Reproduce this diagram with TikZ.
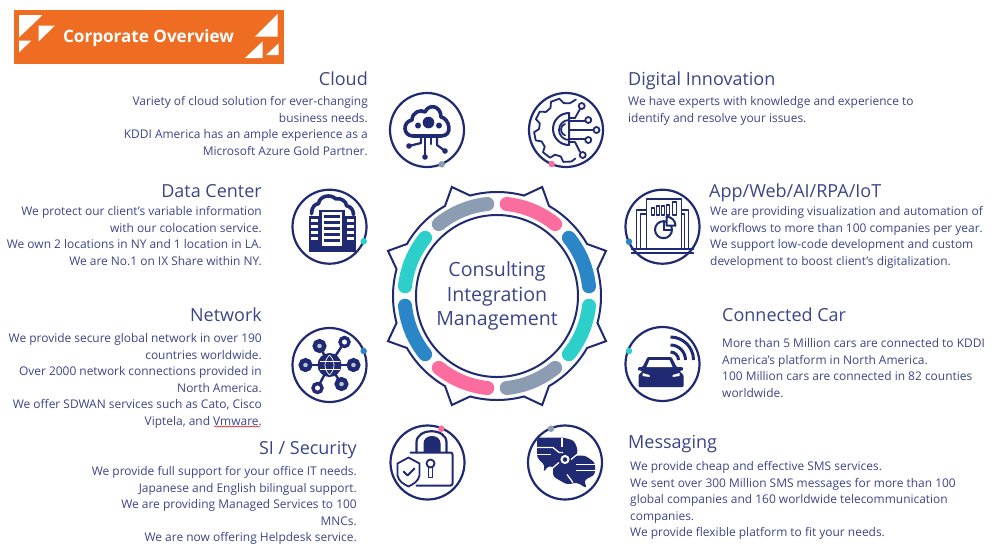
\documentclass[tikz,border=0pt]{standalone}
\usepackage{fontspec}
\setmainfont{Open Sans}
\usetikzlibrary{decorations.pathmorphing}
\definecolor{navy}{HTML}{1F2A72}
\definecolor{inktext}{HTML}{3B4488}
\definecolor{bannerorange}{HTML}{EE6D22}
\definecolor{pinkseg}{HTML}{FB6C9F}
\definecolor{blueseg}{HTML}{2A86C6}
\definecolor{tealseg}{HTML}{2CCFC9}
\definecolor{greyseg}{HTML}{8C9DB3}
\tikzset{
	titletext/.style={text=inktext,inner sep=0pt,font=\fontsize{18}{22}\selectfont},
	bodytext/.style={text=inktext,inner sep=0pt,font=\fontsize{11.95}{16.45}\selectfont},
	iconcirc/.style={circle,draw=navy,line width=2.2,fill=white,minimum size=74,inner sep=0pt},
	icondot/.style={circle,minimum size=6.5,inner sep=0pt},
	segment/.style={line width=14pt,line cap=round},
	iconline/.style={draw=navy,line width=1.8,line cap=round,line join=round},
	iconthick/.style={draw=navy,line width=3.6,line cap=round,line join=round},
}
\begin{document}
\begin{tikzpicture}[x=1pt,y=-1pt]
	\useasboundingbox (0,0) rectangle (1001,558);
	
	\fill[bannerorange] (14,9.5) rectangle (284,63.5);
	\fill[white] (19,15) -- (42.5,15) -- (19,37.5) -- cycle;
	\fill[white] (38.5,25.5) -- (55,25.5) -- (38.5,41.5) -- cycle;
	\fill[white] (19,40.5) -- (31.5,40.5) -- (19,52.5) -- cycle;
	\fill[white] (277.5,14) -- (277.5,36.5) -- (255,36.5) -- cycle;
	\fill[white] (262.5,41.5) -- (262.5,58) -- (245,58) -- cycle;
	\fill[white] (278.5,43.5) -- (278.5,55) -- (266,55) -- cycle;
	\node[text=white,inner sep=0pt,font=\fontsize{17.1}{20}\selectfont\bfseries] (banner) at (148.5,38.5) {Corporate Overview};
	
	\begin{scope}[shift={(497,296)}]
		\draw[navy,line width=2,line join=miter] (30:104) arc[start angle=30,end angle=60,radius=104] -- (67.5:118) -- (75:104) arc[start angle=75,end angle=105,radius=104] -- (112.5:118) -- (120:104) arc[start angle=120,end angle=150,radius=104] -- (157.5:118) -- (165:104) arc[start angle=165,end angle=195,radius=104] -- (202.5:118) -- (210:104) arc[start angle=210,end angle=240,radius=104] -- (247.5:118) -- (255:104) arc[start angle=255,end angle=285,radius=104] -- (292.5:118) -- (300:104) arc[start angle=300,end angle=330,radius=104] -- (337.5:118) -- (345:104) arc[start angle=345,end angle=375,radius=104] -- (22.5:118) -- cycle;
		\draw[segment,pinkseg] (-84:92.5) arc[start angle=-84,end angle=-51,radius=92.5];
		\draw[segment,blueseg] (-39:92.5) arc[start angle=-39,end angle=-6,radius=92.5];
		\draw[segment,tealseg] (6:92.5) arc[start angle=6,end angle=39,radius=92.5];
		\draw[segment,greyseg] (51:92.5) arc[start angle=51,end angle=84,radius=92.5];
		\draw[segment,pinkseg] (96:92.5) arc[start angle=96,end angle=129,radius=92.5];
		\draw[segment,blueseg] (141:92.5) arc[start angle=141,end angle=174,radius=92.5];
		\draw[segment,tealseg] (186:92.5) arc[start angle=186,end angle=219,radius=92.5];
		\draw[segment,greyseg] (231:92.5) arc[start angle=231,end angle=264,radius=92.5];
		\draw[navy,line width=2] (0,0) circle[radius=81];
	\end{scope}
	\node[text=inktext,inner sep=0pt,align=center,font=\fontsize{19.6}{24.4}\selectfont] (core) at (497,296) {Consulting\\Integration\\Management};
	
	\node[iconcirc] (cloudicon) at (427,130) {};
	\begin{scope}[shift={(427,130)}]
		\draw[iconthick] (-14,6) .. controls (-24,6) and (-25,-8) .. (-15,-10) .. controls (-15,-18) and (-6,-21) .. (-2,-18) .. controls (2,-27) and (14,-24) .. (14,-13) .. controls (22,-12) and (27,6) .. (14,6) -- cycle;
		\fill[navy] (1.5,-7.5) circle[radius=5.8];
		\fill[navy] (-9,-4.5) circle[radius=3];
		\fill[navy] (12,-4.5) circle[radius=3];
		\draw[iconline,line width=2.2] (-6,6) -- (-6,13) -- (-18,16);
		\draw[iconline,line width=2.2] (-2,6) -- (-2,27);
		\draw[iconline,line width=2.2] (4,6) -- (4,14);
		\draw[iconline,line width=2.2] (10,6) -- (10,15) -- (18,21);
		\fill[navy] (-18,16) circle[radius=2.8];
		\fill[navy] (-2,27) circle[radius=2.8];
		\fill[navy] (18,21) circle[radius=2.8];
	\end{scope}
	\node[icondot,fill=greyseg] (clouddot) at (441.7,164.3) {};
	
	\node[iconcirc] (digitalicon) at (566,130) {};
	\begin{scope}[shift={(566,130)}]
		\draw[iconline] (-72:32) -- (-82:27) -- (-95:27) -- (-102:32) -- (-118:32) -- (-125:27) -- (-138:27) -- (-145:32) -- (-160:32) -- (-166:27) -- (-178:27) -- (-184:32) -- (-199:32) -- (-205:27) -- (-218:27) -- (-224:32) -- (-240:32) -- (-246:27) -- (-259:27) -- (-265:32) -- (-280:32) -- (-288:30);
		\draw[iconline,line width=2] (3,-17) arc[start angle=-90,end angle=-270,radius=16] -- cycle;
		\draw[iconline] (3,-10) arc[start angle=-90,end angle=-270,radius=10];
		\draw[iconline] (-1,-6) arc[start angle=-110,end angle=-250,radius=6];
		\draw[iconline] (3,-12) -- (9,-12) -- (14,-21);
		\draw[iconline] (3,-9) -- (20,-9);
		\draw[iconline] (3,0) -- (27,0);
		\draw[iconline] (3,9) -- (20,9);
		\draw[iconline] (3,12) -- (9,12) -- (14,22);
		\draw[iconline,fill=white] (15.7,-24) circle[radius=3];
		\draw[iconline,fill=white] (22.3,-10) circle[radius=3];
		\draw[iconline,fill=white] (30.5,0) circle[radius=3];
		\draw[iconline,fill=white] (22.3,10) circle[radius=3];
		\draw[iconline,fill=white] (16.7,25) circle[radius=3];
	\end{scope}
	\node[icondot,fill=pinkseg] (digitaldot) at (551.7,164) {};
	
	\node[iconcirc] (dataicon) at (329.5,226.7) {};
	\begin{scope}[shift={(329.5,226.7)}]
		\draw[iconthick] (-18,-13) .. controls (-18,-20) and (-14,-23) .. (-11,-23) .. controls (-10,-31) and (1,-33) .. (6,-28) .. controls (12,-29) and (17,-25) .. (17,-21) .. controls (22,-20) and (24,-16) .. (24,-12);
		\fill[navy] (-21,-11) rectangle (26,25);
		\fill[white] (-9,-16) rectangle (14,20);
		\draw[navy,line width=2.4] (-9,-16) rectangle (14,20);
		\fill[navy] (-6,-12) rectangle (10,-9);
		\fill[navy] (-6,-6) rectangle (10,-3);
		\fill[navy] (-6,0) rectangle (10,3);
		\fill[navy] (-6,6) rectangle (10,9);
		\fill[navy] (-6,12) rectangle (10,15);
		\fill[white] (-19,-8) rectangle (-12,-5);
		\fill[white] (-19,-2) rectangle (-12,1);
		\fill[white] (-19,4) rectangle (-12,7);
		\fill[white] (-19,10) rectangle (-12,13);
		\fill[white] (17,-8) rectangle (24,-5);
		\fill[white] (17,-2) rectangle (24,1);
		\fill[white] (17,4) rectangle (24,7);
		\fill[white] (17,10) rectangle (24,13);
	\end{scope}
	\node[icondot,fill=tealseg] (datadot) at (363.7,241.3) {};
	
	\node[iconcirc] (networkicon) at (329.5,365) {};
	\begin{scope}[shift={(329.5,365)}]
		\draw[navy,line width=2.4] (0,0) -- (-10,-19);
		\draw[navy,line width=2.4] (0,0) -- (15,-23);
		\draw[navy,line width=2.4] (0,0) -- (-24,0);
		\draw[navy,line width=2.4] (0,0) -- (24,0);
		\draw[navy,line width=2.4] (0,0) -- (12,19);
		\draw[navy,line width=2.4] (0,0) -- (-12,23);
		\fill[navy] (0,0) circle[radius=12];
		\draw[white,line width=0.7] (-10,-4) -- (10,-4);
		\draw[white,line width=0.7] (-10,4) -- (10,4);
		\draw[white,line width=0.7] (0,-10) .. controls (-6,-4) and (-6,4) .. (0,10);
		\draw[white,line width=0.7] (0,-10) .. controls (6,-4) and (6,4) .. (0,10);
		\draw[navy,line width=3.4,fill=white] (15,-23) circle[radius=4.5];
		\draw[navy,line width=3.4,fill=white] (-12,23) circle[radius=4.5];
		\draw[navy,line width=4.4,fill=greyseg!60] (-10,-19) circle[radius=4.8];
		\draw[navy,line width=4.4,fill=greyseg!60] (-24,0) circle[radius=4.8];
		\draw[navy,line width=4.4,fill=greyseg!60] (24,0) circle[radius=4.8];
		\draw[navy,line width=4.4,fill=greyseg!60] (12,19) circle[radius=4.8];
	\end{scope}
	\node[icondot,fill=blueseg] (networkdot) at (363.7,351) {};
	
	\node[iconcirc] (appicon) at (662.5,226.7) {};
	\begin{scope}[shift={(662.5,226.7)}]
		\draw[iconline] (-26,21) -- (-26,-17) -- (26,-17) -- (26,21);
		\draw[iconline] (-22,21) -- (-22,-13) -- (22,-13) -- (22,21);
		\draw[iconline] (-31,22) -- (31,22);
		\draw[iconline] (-31,26) -- (31,26);
		\draw[iconline,fill=white] (-16,21) -- (-16,-28) -- (19,-28) -- (19,21);
		\draw[iconline] (-11,-12) rectangle (-8,-19);
		\draw[iconline] (-6,-12) rectangle (-3,-21);
		\draw[iconline] (-1,-12) rectangle (2,-21);
		\draw[iconline] (4,-12) rectangle (7,-22);
		\draw[iconline] (10,-12) rectangle (14,-25);
		\draw[iconline,line width=2] (1,3) circle[radius=8.5];
		\draw[iconline,line width=2] (1,3) -- (1,-5.5);
		\draw[iconline,line width=2] (1,3) -- (9.5,3);
		\draw[iconline,line width=2,fill=white] (4,-10) -- (4,-1) -- (13,-1) .. controls (13,-6) and (9,-10) .. (4,-10) -- cycle;
	\end{scope}
	\node[icondot,fill=blueseg] (appdot) at (629,241.7) {};
	
	\node[iconcirc] (caricon) at (662.5,364) {};
	\begin{scope}[shift={(662.5,364)}]
		\fill[navy,rounded corners=1] (-15,-7) -- (9,-7) -- (14,3) -- (20,3) -- (21,6) -- (17,7) -- (21,11) -- (21,23) -- (-24,23) -- (-24,11) -- (-20,7) -- (-25,6) -- (-24,3) -- (-20,3) -- cycle;
		\fill[white] (-13,-4) -- (7,-4) -- (10,3) -- (-16,3) -- cycle;
		\fill[white] (-20,9) -- (-13,11) -- (-13,13) -- (-20,12) -- cycle;
		\fill[white] (17,9) -- (10,11) -- (10,13) -- (17,12) -- cycle;
		\draw[navy,line width=3] (8,-12) arc[start angle=-90,end angle=0,radius=8];
		\draw[navy,line width=3] (8,-19) arc[start angle=-90,end angle=0,radius=15];
		\draw[navy,line width=3] (8,-27) arc[start angle=-90,end angle=0,radius=23];
	\end{scope}
	\node[icondot,fill=tealseg] (cardot) at (629,351) {};
	
	\node[iconcirc] (lockicon) at (427.5,462.5) {};
	\begin{scope}[shift={(427.5,462.5)}]
		\draw[iconline,line width=2.2] (-11,-10) -- (-11,-20) .. controls (-11,-35) and (19,-35) .. (19,-20) -- (19,-10);
		\fill[navy] (-4,-10) -- (-4,-19) .. controls (-4,-29) and (13,-29) .. (13,-19) -- (13,-10) -- cycle;
		\draw[iconline,line width=2,rounded corners=2] (-17,-10) -- (25,-10) -- (25,23) -- (-11,23);
		\draw[iconline] (3,1) circle[radius=4];
		\draw[iconline] (1,4) -- (1,15) -- (5,15) -- (5,4);
		\draw[iconline,fill=white] (-19,-5) -- (-8,1) -- (-8,13) .. controls (-9,19) and (-15,22) .. (-19,24) .. controls (-23,22) and (-29,19) .. (-30,13) -- (-30,1) -- cycle;
		\draw[iconline] (-24,9) -- (-20,13) -- (-13,6);
	\end{scope}
	\node[icondot,fill=pinkseg] (lockdot) at (441.3,428.7) {};
	
	\node[iconcirc] (msgicon) at (565,462.5) {};
	\begin{scope}[shift={(565,462.5)}]
		\fill[navy,rounded corners=3] (-28,-25) -- (-2,-25) -- (9,-22) -- (13,-12) -- (10,-4) -- (-1,10) -- (-16,3) -- (-22,10) -- (-20,3) -- (-28,-5) -- cycle;
		\fill[navy,rounded corners=3] (0,-7) -- (20,-7) -- (30,0) -- (30,12) -- (19,18) -- (22,26) -- (12,20) -- (2,22) -- (-12,14) -- (-12,2) -- cycle;
		\draw[white,line width=1.3] (-29,-15) -- (-12,-15) -- (-6,-10) -- (-2,-10);
		\draw[white,line width=1.3] (-29,-8) -- (-14,-8);
		\draw[white,line width=1.3] (-13,6) -- (-6,0);
		\draw[white,line width=1.3] (-3,-16) -- (-3,-25);
		\draw[white,line width=1.3] (11,2) -- (31,2);
		\draw[white,line width=1.3] (11,8) -- (31,8);
		\draw[white,line width=1.3] (2,12) -- (8,20);
		\draw[white,line width=1.3] (6,-3) -- (12,-8);
		\draw[white,line width=2,fill=navy] (0,-3) circle[radius=3.5];
	\end{scope}
	\node[icondot,fill=greyseg] (msgdot) at (551,428.7) {};
	
	\node[titletext,anchor=base east] (cloudtitle) at (368,85.5) {Cloud};
	\node[bodytext,anchor=north east,align=right] (cloudbody) at (368,96.5) {Variety of cloud solution for ever-changing\\business needs.\\KDDI America has an ample experience as a\\Microsoft Azure Gold Partner.};
	\node[titletext,anchor=base east] (datatitle) at (262,197.5) {Data Center};
	\node[bodytext,anchor=north east,align=right] (databody) at (262,206.5) {We protect our client’s variable information\\with our colocation service.\\We own 2 locations in NY and 1 location in LA.\\We are No.1 on IX Share within NY.};
	\node[titletext,anchor=base east] (networktitle) at (262,321.5) {Network};
	\node[bodytext,anchor=north east,align=right] (networkbody) at (262,333.5) {We provide secure global network in over 190\\countries worldwide.\\Over 2000 network connections provided in\\North America.\\We offer SDWAN services such as Cato, Cisco\\Viptela, and Vmware.};
	\node[titletext,anchor=base east] (securitytitle) at (357,454.5) {SI / Security};
	\node[bodytext,anchor=north east,align=right] (securitybody) at (357,466.5) {We provide full support for your office IT needs.\\Japanese and English bilingual support.\\We are providing Managed Services to 100\\MNCs.\\We are now offering Helpdesk service.};
	
	\node[titletext,anchor=base west] (digitaltitle) at (628,85.5) {Digital Innovation};
	\node[bodytext,anchor=north west,align=left] (digitalbody) at (628,96.5) {We have experts with knowledge and experience to\\identify and resolve your issues.};
	\node[titletext,anchor=base west] (apptitle) at (709,197.5) {App/Web/AI/RPA/IoT};
	\node[bodytext,anchor=north west,align=left] (appbody) at (710,206.5) {We are providing visualization and automation of\\workflows to more than 100 companies per year.\\We support low-code development and custom\\development to boost client’s digitalization.};
	\node[titletext,anchor=base west] (cartitle) at (722,321.5) {Connected Car};
	\node[bodytext,anchor=north west,align=left] (carbody) at (722,338.5) {More than 5 Million cars are connected to KDDI\\America’s platform in North America.\\100 Million cars are connected in 82 counties\\worldwide.};
	\node[titletext,anchor=base west] (msgtitle) at (628,448) {Messaging};
	\node[bodytext,anchor=north west,align=left] (msgbody) at (630,461.5) {We provide cheap and effective SMS services.\\We sent over 300 Million SMS messages for more than 100\\global companies and 160 worldwide telecommunication\\companies.\\We provide flexible platform to fit your needs.};
	
	\draw[red!80!black,line width=0.5,decorate,decoration={snake,amplitude=0.6,segment length=3}] (214,426.5) -- (260,426.5);
\end{tikzpicture}
\end{document}
